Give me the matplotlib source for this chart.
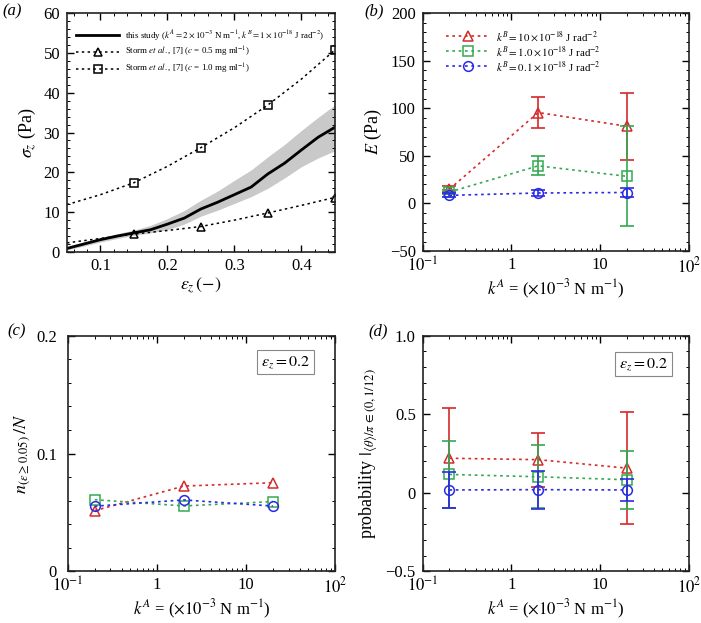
import matplotlib

matplotlib.use("Agg")

import matplotlib.pyplot as plt
import numpy as np
from matplotlib.ticker import AutoMinorLocator, FixedLocator, FuncFormatter, LogLocator, NullFormatter

plt.rcParams["font.family"] = ["Liberation Serif", "DejaVu Serif"]
plt.rcParams["mathtext.fontset"] = "stix"

# ---- panel (a): stress-strain ----
strain = [0.05, 0.075, 0.1, 0.125, 0.15, 0.175, 0.2, 0.225, 0.25, 0.275, 0.3, 0.325, 0.35, 0.375, 0.4, 0.425, 0.45]
stress_mean = [0.9, 2.0, 3.1, 4.0, 4.8, 5.6, 7.0, 8.5, 10.8, 12.5, 14.4, 16.3, 19.6, 22.3, 25.6, 28.8, 31.3]
stress_low = [0.5, 1.5, 2.5, 3.4, 4.2, 4.8, 5.6, 7.0, 9.0, 10.5, 12.2, 13.9, 16.0, 18.6, 21.4, 23.6, 25.4]
stress_high = [1.4, 2.5, 3.6, 4.6, 5.5, 6.7, 8.4, 10.4, 13.0, 15.3, 18.0, 20.6, 23.9, 27.0, 30.5, 33.8, 36.9]

storm_x = [0.15, 0.25, 0.35, 0.45]
storm_05 = [4.6, 6.3, 9.8, 13.6]
storm_10 = [17.4, 26.2, 36.9, 50.7]
fit_x = [0.05, 0.1, 0.15, 0.2, 0.25, 0.3, 0.35, 0.4, 0.45]
fit_05 = [2.3, 3.4, 4.5, 5.4, 6.4, 8.0, 9.8, 11.7, 13.7]
fit_10 = [11.9, 14.4, 17.4, 21.5, 26.2, 31.2, 36.9, 43.4, 50.7]

# ---- panels (b)-(d): vs k^A ----
kA = [0.2, 2.0, 20.0]
series_names = [
    r"$k^B = 10\times10^{-18}$ J rad$^{-2}$",
    r"$k^B = 1.0\times10^{-18}$ J rad$^{-2}$",
    r"$k^B = 0.1\times10^{-18}$ J rad$^{-2}$",
]
colors = ["#d42a2a", "#33a852", "#2a2ae6"]
markers = ["^", "s", "o"]

E_red = [15.0, 95.5, 81.0]
E_red_err = [3.0, 16.5, 35.5]
E_green = [12.0, 39.5, 28.5]
E_green_err = [2.0, 10.0, 52.5]
E_blue = [8.5, 11.0, 11.5]
E_blue_err = [2.0, 3.0, 5.0]

n_red = [0.0515, 0.0724, 0.0752]
n_green = [0.0608, 0.0555, 0.0592]
n_blue = [0.0553, 0.0606, 0.0554]

p_red = [0.22, 0.211, 0.157]
p_red_err = [0.318, 0.172, 0.358]
p_green = [0.117, 0.102, 0.083]
p_green_err = [0.212, 0.200, 0.186]
p_blue = [0.018, 0.020, 0.018]
p_blue_err = [0.112, 0.121, 0.073]

DOT = (0, (1.6, 2.2))


def minus(s):
    return s.replace("-", "\u2212")


def style_axes(ax, xminor=5, yminor=5, logx=False):
    ax.tick_params(which="both", direction="in", top=True, right=True, labelsize=12)
    ax.tick_params(which="major", length=5, width=1.0)
    ax.tick_params(which="minor", length=2.5, width=0.7)
    ax.tick_params(axis="x", which="major", pad=4)
    ax.tick_params(axis="y", which="major", pad=5)
    if logx:
        ax.set_xscale("log")
        ax.xaxis.set_major_locator(FixedLocator([0.1, 1, 10, 100]))
        ax.xaxis.set_minor_locator(LogLocator(base=10, subs=np.arange(2, 10)))
        ax.xaxis.set_minor_formatter(NullFormatter())
        names = {0.1: r"$10^{-1}$", 1: "1", 10: "10", 100: r"$10^2$"}
        ax.xaxis.set_major_formatter(FuncFormatter(lambda v, p: names.get(round(v, 3), "")))
        ax.set_xlim(0.1, 100)
        ax.set_xlabel(r"$k^A$ = ($\times10^{-3}$ N m$^{-1}$)", fontsize=12, labelpad=1)
    else:
        ax.xaxis.set_minor_locator(AutoMinorLocator(xminor))
    ax.yaxis.set_minor_locator(AutoMinorLocator(yminor))
    for sp in ax.spines.values():
        sp.set_linewidth(1.2)
        sp.set_color("#222222")


def eps_box(ax, x, y):
    ax.text(x, y, r"$\varepsilon_z = 0.2$", transform=ax.transAxes, ha="center", va="center", fontsize=11.5,
            bbox=dict(boxstyle="square,pad=0.25", facecolor="white", edgecolor="#888888", linewidth=0.8))


def plot_a(ax):
    ax.fill_between(strain, stress_low, stress_high, color="#c9c9c9", linewidth=0)
    ax.plot(strain, stress_mean, color="black", linewidth=2.0,
            label=r"this study ($k^A = 2\times10^{-3}$ N m$^{-1}$, $k^B = 1\times10^{-18}$ J rad$^{-2}$)")
    ax.plot(fit_x, fit_05, color="black", linestyle=DOT, linewidth=1.1)
    ax.plot(fit_x, fit_10, color="black", linestyle=DOT, linewidth=1.1)
    ax.plot(storm_x, storm_05, linestyle="none", marker="^", ms=6, mfc="none", mec="black", mew=1.1)
    ax.plot(storm_x, storm_10, linestyle="none", marker="s", ms=6, mfc="none", mec="black", mew=1.1)
    # legend proxies
    ax.plot([], [], color="black", linestyle=DOT, linewidth=1.1, marker="^", ms=6, mfc="none", mew=1.1,
            label=r"Storm $et\ al.$, [7] ($c$ = 0.5 mg ml$^{-1}$)")
    ax.plot([], [], color="black", linestyle=DOT, linewidth=1.1, marker="s", ms=6, mfc="none", mew=1.1,
            label=r"Storm $et\ al.$, [7] ($c$ = 1.0 mg ml$^{-1}$)")
    ax.set_xlim(0.05, 0.45)
    ax.set_ylim(0, 60)
    ax.set_xticks([0.1, 0.2, 0.3, 0.4])
    ax.set_yticks(np.arange(0, 61, 10))
    style_axes(ax, xminor=5, yminor=5)
    ax.set_xlabel(r"$\varepsilon_z\,(-)$", fontsize=13, labelpad=2)
    ax.set_ylabel(r"$\sigma_z$ (Pa)", fontsize=13)
    ax.legend(loc="upper left", bbox_to_anchor=(0.01, 0.965), frameon=False, fontsize=6.4,
              handlelength=4.9, labelspacing=0.3, borderpad=0.2, handletextpad=0.6)


def plot_b(ax):
    vals = [(E_red, E_red_err), (E_green, E_green_err), (E_blue, E_blue_err)]
    for (y, err), c, m, name in zip(vals, colors, markers, series_names):
        ax.errorbar(kA, y, yerr=err, fmt="none", ecolor=c, elinewidth=1.2, capsize=5, capthick=1.2)
        ax.plot(kA, y, color=c, linestyle=DOT, linewidth=1.2, marker=m, ms=7, mfc="none", mec=c, mew=1.1,
                label=name)
    style_axes(ax, logx=True)
    ax.set_ylim(-50, 200)
    ax.set_yticks(np.arange(-50, 201, 50))
    ax.yaxis.set_major_formatter(FuncFormatter(lambda v, p: minus(f"{v:.0f}")))
    ax.yaxis.set_minor_locator(AutoMinorLocator(5))
    ax.set_ylabel(r"$E$ (Pa)", fontsize=13)
    ax.legend(loc="upper left", bbox_to_anchor=(0.06, 0.965), frameon=False, fontsize=7.8,
              handlelength=4.0, labelspacing=0.1, borderpad=0.2, handletextpad=0.6)


def plot_c(ax):
    for y, c, m in zip([n_red, n_green, n_blue], colors, markers):
        ax.plot(kA, y, color=c, linestyle=DOT, linewidth=1.2, marker=m, ms=7, mfc="none", mec=c, mew=1.1)
    style_axes(ax, logx=True)
    ax.tick_params(axis="y", which="major", pad=8)
    ax.set_ylim(0, 0.2)
    ax.set_yticks([0, 0.1, 0.2])
    ax.yaxis.set_major_formatter(FuncFormatter(lambda v, p: "0" if v == 0 else f"{v:.1f}"))
    ax.yaxis.set_minor_locator(AutoMinorLocator(5))
    ax.set_ylabel(r"$n_{(\varepsilon \geq 0.05)}\,/N$", fontsize=13, labelpad=2)
    eps_box(ax, 0.815, 0.887)


def plot_d(ax):
    vals = [(p_red, p_red_err), (p_green, p_green_err), (p_blue, p_blue_err)]
    for (y, err), c, m in zip(vals, colors, markers):
        ax.errorbar(kA, y, yerr=err, fmt="none", ecolor=c, elinewidth=1.2, capsize=5, capthick=1.2)
        ax.plot(kA, y, color=c, linestyle=DOT, linewidth=1.2, marker=m, ms=7, mfc="none", mec=c, mew=1.1)
    style_axes(ax, logx=True)
    ax.set_ylim(-0.5, 1.0)
    ax.set_yticks([-0.5, 0, 0.5, 1.0])
    ax.yaxis.set_major_formatter(FuncFormatter(lambda v, p: "0" if abs(v) < 1e-9 else minus(f"{v:.1f}")))
    ax.yaxis.set_minor_locator(AutoMinorLocator(5))
    ax.set_ylabel(r"probability $|_{\langle\theta\rangle/\pi\,\in(0,1/12)}$", fontsize=13)
    eps_box(ax, 0.83, 0.882)


def run():
    fig = plt.figure(figsize=(7.01, 6.23), dpi=100)
    ax_a = fig.add_axes([0.0956, 0.5955, 0.382, 0.3836])
    ax_b = fig.add_axes([0.603, 0.5970, 0.38, 0.3821])
    ax_c = fig.add_axes([0.097, 0.083, 0.381, 0.378])
    ax_d = fig.add_axes([0.603, 0.083, 0.38, 0.378])
    plot_a(ax_a)
    plot_b(ax_b)
    plot_c(ax_c)
    plot_d(ax_d)
    for label, x, y in [("a", 0.004, 0.982), ("b", 0.52, 0.982), ("c", 0.01, 0.468), ("d", 0.525, 0.468)]:
        fig.text(x, y, f"({label})", fontsize=12, style="italic", ha="left", va="center")
    fig.savefig("out.png", dpi=100)
    plt.close(fig)


if __name__ == "__main__":
    run()
